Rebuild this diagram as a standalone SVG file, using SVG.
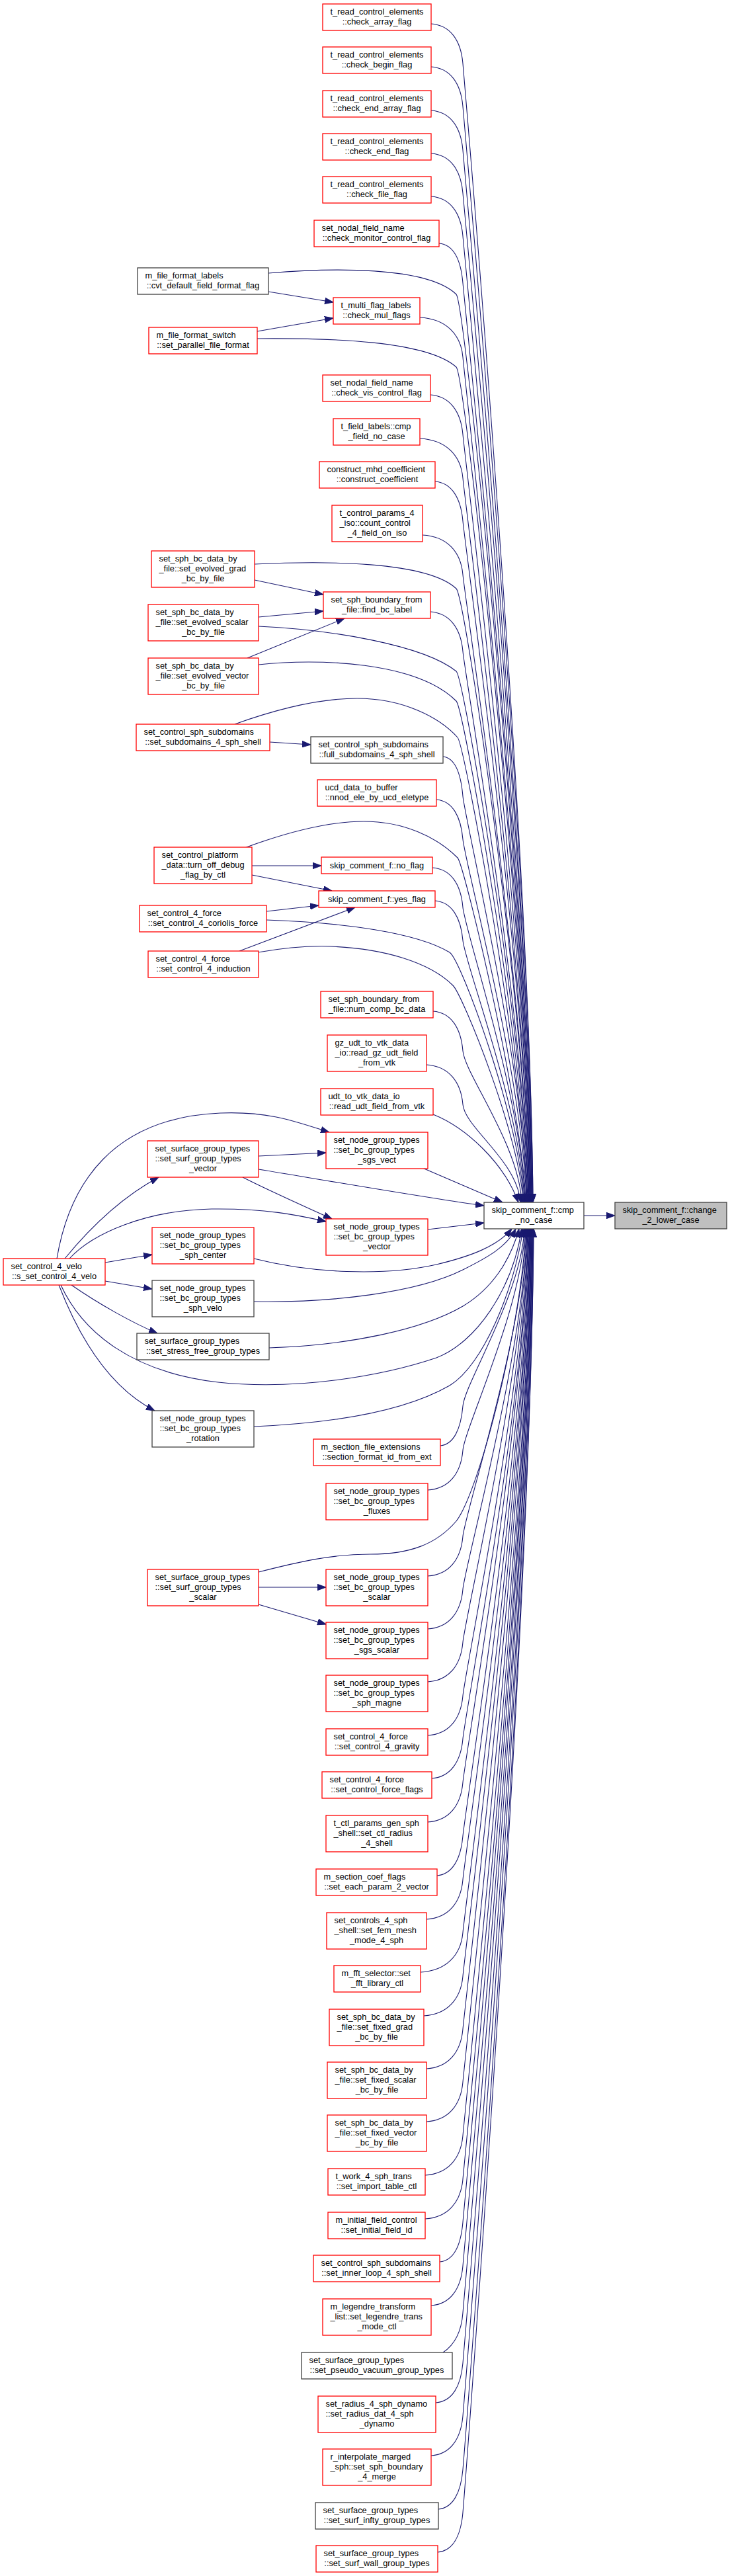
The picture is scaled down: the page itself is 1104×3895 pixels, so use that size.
<svg xmlns="http://www.w3.org/2000/svg" width="1104" height="3895" viewBox="0 0 1104 3895">
<defs>
<style>
.r{fill:#fff;stroke:#ff0000;stroke-width:1.3}
.k{fill:#fff;stroke:#404040;stroke-width:1.3}
.g{fill:#bfbfbf;stroke:#404040;stroke-width:1.3}
text{font-family:"Liberation Sans",Arial,Helvetica,sans-serif;font-size:12.8px;fill:#000}
.c{text-anchor:middle}
#edges path{fill:none;stroke:#191970;stroke-width:1.1;marker-end:url(#a)}
</style>
<marker id="a" viewBox="0 0 13 10" refX="13" refY="5" markerWidth="13" markerHeight="10" markerUnits="userSpaceOnUse" orient="auto"><path d="M0,0.3 L13,5 L0,9.7 z" fill="#191970" stroke="#191970" stroke-width="1"/></marker>
</defs>
<rect width="1104" height="3895" fill="#fff"/>
<g id="edges">
<path d="M406,441 L504,457"/>
<path d="M389,501 L504,481"/>
<path d="M385,877 L489,899"/>
<path d="M391,933 L489,924"/>
<path d="M374,995 L521,935"/>
<path d="M408,1122 L470,1126"/>
<path d="M381,1309 L486,1309"/>
<path d="M381,1323 L502,1347"/>
<path d="M403,1378 L482,1369"/>
<path d="M362,1438 L537,1372"/>
<path d="M391,1748 L493,1743"/>
<path d="M367,1780 C400,1797 440,1815 502,1843"/>
<path d="M86,1903 C105,1790 170,1690 333,1683 C410,1680 450,1697 498,1712"/>
<path d="M98,1903 C125,1870 175,1815 240,1780"/>
<path d="M105,1903 C140,1865 220,1830 320,1828 C400,1827 450,1837 493,1847"/>
<path d="M159,1909 L230,1897"/>
<path d="M159,1937 L230,1949"/>
<path d="M108,1943 C150,1972 200,2000 238,2016"/>
<path d="M89,1943 C115,2010 160,2095 234,2133"/>
<path d="M391,2400 L493,2400"/>
<path d="M391,2426 L493,2456"/>
<path d="M883,1838 L930,1838"/>
<path d="M652,36 C681,38 697,61 700,96 C703,131 802,1283 806,1818"/>
<path d="M652,101 C681,103 697,126 700,161 C703,196 802,1303 806,1818"/>
<path d="M652,167 C681,169 697,192 700,227 C703,262 801,1323 805,1818"/>
<path d="M652,232 C681,234 697,257 700,292 C703,327 801,1342 805,1818"/>
<path d="M652,297 C681,299 697,322 700,357 C703,392 800,1362 804,1818"/>
<path d="M664,368 C686,370 697,393 700,428 C703,463 800,1383 804,1818"/>
<path d="M635,480 C674,482 697,505 700,540 C703,575 799,1417 803,1818"/>
<path d="M651,597 C680,599 697,622 700,657 C703,692 798,1452 802,1818"/>
<path d="M635,663 C674,665 697,688 700,723 C703,758 797,1471 801,1818"/>
<path d="M658,728 C683,730 697,753 700,788 C703,823 797,1491 801,1818"/>
<path d="M639,809 C676,811 697,834 700,869 C703,904 796,1515 800,1818"/>
<path d="M651,925 C680,927 697,950 700,985 C703,1020 795,1550 799,1818"/>
<path d="M670,1144 C688,1146 697,1169 700,1204 C703,1239 793,1616 797,1818"/>
<path d="M660,1209 C684,1211 697,1234 700,1269 C703,1304 792,1635 796,1818"/>
<path d="M654,1312 C682,1314 697,1337 700,1372 C703,1407 790,1665 794,1818"/>
<path d="M658,1362 C683,1364 697,1387 700,1422 C703,1457 789,1681 793,1818"/>
<path d="M655,1529 C682,1531 697,1554 700,1589 C703,1624 785,1731 789,1818"/>
<path d="M645,1610 C678,1612 697,1635 700,1670 C703,1705 783,1756 787,1818"/>
<path d="M655,1685 C705,1705 762,1758 784,1818"/>
<path d="M639,1766 L760,1818"/>
<path d="M391,1768 C500,1786 650,1812 732,1823"/>
<path d="M647,1859 L732,1849"/>
<path d="M406,413 C500,405 645,402 690,445 C704,459 799,1406 803,1818"/>
<path d="M389,512 C500,511 645,515 690,555 C704,568 798,1440 802,1818"/>
<path d="M385,853 C490,848 645,848 690,890 C704,903 796,1540 800,1818"/>
<path d="M391,947 C500,952 640,975 690,1015 C702,1025 795,1580 799,1818"/>
<path d="M391,1005 C480,995 630,1000 690,1060 C702,1072 794,1600 798,1818"/>
<path d="M355,1095 C430,1068 490,1056 540,1056 C610,1056 665,1085 692,1115 C703,1127 793,1620 797,1818"/>
<path d="M370,1282 C440,1256 500,1242 550,1242 C610,1242 660,1265 692,1297 C702,1307 791,1680 795,1818"/>
<path d="M403,1391 C520,1395 630,1410 680,1440 C698,1452 788,1700 792,1818"/>
<path d="M390,1440 C430,1433 470,1430 500,1431 C580,1434 650,1455 685,1490 C700,1505 787,1720 791,1818"/>
<path d="M384,1903 C470,1925 580,1930 660,1912 C710,1900 752,1885 774,1858"/>
<path d="M384,1968 C500,1970 630,1955 700,1920 C740,1900 766,1885 780,1858"/>
<path d="M407,2038 C530,2034 640,2010 700,1975 C745,1948 772,1905 785,1858"/>
<path d="M92,1943 C125,2015 200,2075 330,2090 C450,2103 580,2080 660,2053 C720,2030 775,1950 789,1858"/>
<path d="M384,2157 C500,2152 610,2135 680,2095 C730,2065 778,1950 791,1858"/>
<path d="M391,2377 C450,2362 500,2350 560,2350 C620,2350 660,2335 690,2300 C725,2255 790,2000 795,1858"/>
<path d="M666,2186 C686,2184 697,2161 700,2126 C703,2091 789,1956 793,1858"/>
<path d="M647,2253 C679,2251 697,2228 700,2193 C703,2158 790,1977 794,1858"/>
<path d="M647,2383 C679,2381 697,2358 700,2323 C703,2288 792,2016 796,1858"/>
<path d="M647,2463 C679,2461 697,2438 700,2403 C703,2368 793,2040 797,1858"/>
<path d="M647,2543 C679,2541 697,2518 700,2483 C703,2448 793,2064 797,1858"/>
<path d="M647,2624 C679,2622 697,2599 700,2564 C703,2529 794,2088 798,1858"/>
<path d="M653,2689 C681,2687 697,2664 700,2629 C703,2594 795,2107 799,1858"/>
<path d="M647,2755 C679,2753 697,2730 700,2695 C703,2660 795,2127 799,1858"/>
<path d="M661,2836 C684,2834 697,2811 700,2776 C703,2741 796,2151 800,1858"/>
<path d="M645,2902 C678,2900 697,2877 700,2842 C703,2807 797,2171 801,1858"/>
<path d="M636,2982 C674,2980 697,2957 700,2922 C703,2887 797,2195 801,1858"/>
<path d="M641,3048 C676,3046 697,3023 700,2988 C703,2953 798,2215 802,1858"/>
<path d="M645,3128 C678,3126 697,3103 700,3068 C703,3033 798,2239 802,1858"/>
<path d="M645,3208 C678,3206 697,3183 700,3148 C703,3113 799,2263 803,1858"/>
<path d="M643,3289 C677,3287 697,3264 700,3229 C703,3194 799,2287 803,1858"/>
<path d="M643,3355 C677,3353 697,3330 700,3295 C703,3260 800,2307 804,1858"/>
<path d="M665,3420 C686,3418 697,3395 700,3360 C703,3325 800,2327 804,1858"/>
<path d="M652,3486 C681,3484 697,3461 700,3426 C703,3391 801,2346 805,1858"/>
<path d="M670,3557 C688,3545 698,3525 700,3497 C703,3462 801,2368 805,1858"/>
<path d="M659,3633 C684,3631 697,3608 700,3573 C703,3538 802,2390 806,1858"/>
<path d="M652,3713 C681,3711 697,3688 700,3653 C703,3618 802,2414 806,1858"/>
<path d="M663,3794 C685,3792 697,3769 700,3734 C703,3699 803,2439 807,1858"/>
<path d="M662,3859 C685,3857 697,3834 700,3799 C703,3764 803,2458 807,1858"/>
</g>
<g id="n_check_array"><rect class="r" x="488" y="6" width="164" height="40"/><text x="499.5" y="22">t_read_control_elements</text><text class="c" x="570" y="37">::check_array_flag</text></g>
<g id="n_check_begin"><rect class="r" x="488" y="71" width="164" height="40"/><text x="499.5" y="87">t_read_control_elements</text><text class="c" x="570" y="102">::check_begin_flag</text></g>
<g id="n_check_end_array"><rect class="r" x="488" y="137" width="164" height="40"/><text x="499.5" y="153">t_read_control_elements</text><text class="c" x="570" y="168">::check_end_array_flag</text></g>
<g id="n_check_end"><rect class="r" x="488" y="202" width="164" height="40"/><text x="499.5" y="218">t_read_control_elements</text><text class="c" x="570" y="233">::check_end_flag</text></g>
<g id="n_check_file"><rect class="r" x="488" y="267" width="164" height="40"/><text x="499.5" y="283">t_read_control_elements</text><text class="c" x="570" y="298">::check_file_flag</text></g>
<g id="n_check_monitor"><rect class="r" x="475" y="333" width="189" height="40"/><text x="486.5" y="349">set_nodal_field_name</text><text class="c" x="569.5" y="364">::check_monitor_control_flag</text></g>
<g id="n_cvt"><rect class="k" x="208" y="405" width="198" height="40"/><text x="219.5" y="421">m_file_format_labels</text><text class="c" x="307" y="436">::cvt_default_field_format_flag</text></g>
<g id="n_check_mul"><rect class="r" x="504" y="450" width="131" height="40"/><text x="515.5" y="466">t_multi_flag_labels</text><text class="c" x="569.5" y="481">::check_mul_flags</text></g>
<g id="n_set_parallel"><rect class="r" x="225" y="495" width="164" height="40"/><text x="236.5" y="511">m_file_format_switch</text><text class="c" x="307" y="526">::set_parallel_file_format</text></g>
<g id="n_check_vis"><rect class="r" x="488" y="567" width="163" height="40"/><text x="499.5" y="583">set_nodal_field_name</text><text class="c" x="569.5" y="598">::check_vis_control_flag</text></g>
<g id="n_cmp_field"><rect class="r" x="504" y="633" width="131" height="40"/><text x="515.5" y="649">t_field_labels::cmp</text><text class="c" x="569.5" y="664">_field_no_case</text></g>
<g id="n_construct"><rect class="r" x="483" y="698" width="175" height="40"/><text x="494.5" y="714">construct_mhd_coefficient</text><text class="c" x="570.5" y="729">::construct_coefficient</text></g>
<g id="n_count_control"><rect class="r" x="502" y="764" width="137" height="55"/><text x="513.5" y="780">t_control_params_4</text><text x="513.5" y="795">_iso::count_control</text><text class="c" x="570.5" y="810">_4_field_on_iso</text></g>
<g id="n_evolved_grad"><rect class="r" x="229" y="833" width="156" height="55"/><text x="240.5" y="849">set_sph_bc_data_by</text><text x="240.5" y="864">_file::set_evolved_grad</text><text class="c" x="307" y="879">_bc_by_file</text></g>
<g id="n_find_bc"><rect class="r" x="489" y="895" width="162" height="40"/><text x="500.5" y="911">set_sph_boundary_from</text><text class="c" x="570" y="926">_file::find_bc_label</text></g>
<g id="n_evolved_scalar"><rect class="r" x="224" y="914" width="167" height="55"/><text x="235.5" y="930">set_sph_bc_data_by</text><text x="235.5" y="945">_file::set_evolved_scalar</text><text class="c" x="307.5" y="960">_bc_by_file</text></g>
<g id="n_evolved_vector"><rect class="r" x="224" y="995" width="167" height="55"/><text x="235.5" y="1011">set_sph_bc_data_by</text><text x="235.5" y="1026">_file::set_evolved_vector</text><text class="c" x="307.5" y="1041">_bc_by_file</text></g>
<g id="n_set_subdomains"><rect class="r" x="206" y="1095" width="202" height="40"/><text x="217.5" y="1111">set_control_sph_subdomains</text><text class="c" x="307" y="1126">::set_subdomains_4_sph_shell</text></g>
<g id="n_full_subdomains"><rect class="k" x="470" y="1114" width="200" height="40"/><text x="481.5" y="1130">set_control_sph_subdomains</text><text class="c" x="570" y="1145">::full_subdomains_4_sph_shell</text></g>
<g id="n_nnod"><rect class="r" x="480" y="1179" width="180" height="40"/><text x="491.5" y="1195">ucd_data_to_buffer</text><text class="c" x="570" y="1210">::nnod_ele_by_ucd_eletype</text></g>
<g id="n_platform"><rect class="r" x="233" y="1281" width="148" height="55"/><text x="244.5" y="1297">set_control_platform</text><text x="244.5" y="1312">_data::turn_off_debug</text><text class="c" x="307" y="1327">_flag_by_ctl</text></g>
<g id="n_no_flag"><rect class="r" x="486" y="1296" width="168" height="25"/><text class="c" x="570" y="1312.5">skip_comment_f::no_flag</text></g>
<g id="n_yes_flag"><rect class="r" x="482" y="1347" width="176" height="25"/><text class="c" x="570" y="1363.5">skip_comment_f::yes_flag</text></g>
<g id="n_coriolis"><rect class="r" x="211" y="1369" width="192" height="40"/><text x="222.5" y="1385">set_control_4_force</text><text class="c" x="307" y="1400">::set_control_4_coriolis_force</text></g>
<g id="n_induction"><rect class="r" x="224" y="1438" width="167" height="40"/><text x="235.5" y="1454">set_control_4_force</text><text class="c" x="307.5" y="1469">::set_control_4_induction</text></g>
<g id="n_num_comp"><rect class="r" x="485" y="1499" width="170" height="40"/><text x="496.5" y="1515">set_sph_boundary_from</text><text class="c" x="570" y="1530">_file::num_comp_bc_data</text></g>
<g id="n_read_gz"><rect class="r" x="495" y="1565" width="150" height="55"/><text x="506.5" y="1581">gz_udt_to_vtk_data</text><text x="506.5" y="1596">_io::read_gz_udt_field</text><text class="c" x="570" y="1611">_from_vtk</text></g>
<g id="n_read_udt"><rect class="r" x="485" y="1646" width="170" height="40"/><text x="496.5" y="1662">udt_to_vtk_data_io</text><text class="c" x="570" y="1677">::read_udt_field_from_vtk</text></g>
<g id="n_sgs_vect"><rect class="r" x="493" y="1712" width="154" height="55"/><text x="504.5" y="1728">set_node_group_types</text><text x="504.5" y="1743">::set_bc_group_types</text><text class="c" x="570" y="1758">_sgs_vect</text></g>
<g id="n_surf_vector"><rect class="r" x="223" y="1725" width="168" height="55"/><text x="234.5" y="1741">set_surface_group_types</text><text x="234.5" y="1756">::set_surf_group_types</text><text class="c" x="307" y="1771">_vector</text></g>
<g id="n_bc_vector"><rect class="r" x="493" y="1843" width="154" height="55"/><text x="504.5" y="1859">set_node_group_types</text><text x="504.5" y="1874">::set_bc_group_types</text><text class="c" x="570" y="1889">_vector</text></g>
<g id="n_sph_center"><rect class="r" x="230" y="1856" width="154" height="55"/><text x="241.5" y="1872">set_node_group_types</text><text x="241.5" y="1887">::set_bc_group_types</text><text class="c" x="307" y="1902">_sph_center</text></g>
<g id="n_velo"><rect class="r" x="5" y="1903" width="154" height="40"/><text x="16.5" y="1919">set_control_4_velo</text><text class="c" x="82" y="1934">::s_set_control_4_velo</text></g>
<g id="n_sph_velo"><rect class="k" x="230" y="1936" width="154" height="55"/><text x="241.5" y="1952">set_node_group_types</text><text x="241.5" y="1967">::set_bc_group_types</text><text class="c" x="307" y="1982">_sph_velo</text></g>
<g id="n_stress_free"><rect class="k" x="207" y="2016" width="200" height="40"/><text x="218.5" y="2032">set_surface_group_types</text><text class="c" x="307" y="2047">::set_stress_free_group_types</text></g>
<g id="n_rotation"><rect class="k" x="230" y="2133" width="154" height="55"/><text x="241.5" y="2149">set_node_group_types</text><text x="241.5" y="2164">::set_bc_group_types</text><text class="c" x="307" y="2179">_rotation</text></g>
<g id="n_section_format"><rect class="r" x="474" y="2176" width="192" height="40"/><text x="485.5" y="2192">m_section_file_extensions</text><text class="c" x="570" y="2207">::section_format_id_from_ext</text></g>
<g id="n_fluxes"><rect class="r" x="493" y="2243" width="154" height="55"/><text x="504.5" y="2259">set_node_group_types</text><text x="504.5" y="2274">::set_bc_group_types</text><text class="c" x="570" y="2289">_fluxes</text></g>
<g id="n_surf_scalar"><rect class="r" x="223" y="2373" width="168" height="55"/><text x="234.5" y="2389">set_surface_group_types</text><text x="234.5" y="2404">::set_surf_group_types</text><text class="c" x="307" y="2419">_scalar</text></g>
<g id="n_bc_scalar"><rect class="r" x="493" y="2373" width="154" height="55"/><text x="504.5" y="2389">set_node_group_types</text><text x="504.5" y="2404">::set_bc_group_types</text><text class="c" x="570" y="2419">_scalar</text></g>
<g id="n_sgs_scalar"><rect class="r" x="493" y="2453" width="154" height="55"/><text x="504.5" y="2469">set_node_group_types</text><text x="504.5" y="2484">::set_bc_group_types</text><text class="c" x="570" y="2499">_sgs_scalar</text></g>
<g id="n_sph_magne"><rect class="r" x="493" y="2533" width="154" height="55"/><text x="504.5" y="2549">set_node_group_types</text><text x="504.5" y="2564">::set_bc_group_types</text><text class="c" x="570" y="2579">_sph_magne</text></g>
<g id="n_gravity"><rect class="r" x="493" y="2614" width="154" height="40"/><text x="504.5" y="2630">set_control_4_force</text><text class="c" x="570" y="2645">::set_control_4_gravity</text></g>
<g id="n_force_flags"><rect class="r" x="487" y="2679" width="166" height="40"/><text x="498.5" y="2695">set_control_4_force</text><text class="c" x="570" y="2710">::set_control_force_flags</text></g>
<g id="n_ctl_radius"><rect class="r" x="493" y="2745" width="154" height="55"/><text x="504.5" y="2761">t_ctl_params_gen_sph</text><text x="504.5" y="2776">_shell::set_ctl_radius</text><text class="c" x="570" y="2791">_4_shell</text></g>
<g id="n_each_param"><rect class="r" x="478" y="2826" width="183" height="40"/><text x="489.5" y="2842">m_section_coef_flags</text><text class="c" x="569.5" y="2857">::set_each_param_2_vector</text></g>
<g id="n_fem_mesh"><rect class="r" x="494" y="2892" width="151" height="55"/><text x="505.5" y="2908">set_controls_4_sph</text><text x="505.5" y="2923">_shell::set_fem_mesh</text><text class="c" x="569.5" y="2938">_mode_4_sph</text></g>
<g id="n_fft"><rect class="r" x="505" y="2972" width="131" height="40"/><text x="516.5" y="2988">m_fft_selector::set</text><text class="c" x="570.5" y="3003">_fft_library_ctl</text></g>
<g id="n_fixed_grad"><rect class="r" x="498" y="3038" width="143" height="55"/><text x="509.5" y="3054">set_sph_bc_data_by</text><text x="509.5" y="3069">_file::set_fixed_grad</text><text class="c" x="569.5" y="3084">_bc_by_file</text></g>
<g id="n_fixed_scalar"><rect class="r" x="495" y="3118" width="150" height="55"/><text x="506.5" y="3134">set_sph_bc_data_by</text><text x="506.5" y="3149">_file::set_fixed_scalar</text><text class="c" x="570" y="3164">_bc_by_file</text></g>
<g id="n_fixed_vector"><rect class="r" x="495" y="3198" width="150" height="55"/><text x="506.5" y="3214">set_sph_bc_data_by</text><text x="506.5" y="3229">_file::set_fixed_vector</text><text class="c" x="570" y="3244">_bc_by_file</text></g>
<g id="n_import_table"><rect class="r" x="496" y="3279" width="147" height="40"/><text x="507.5" y="3295">t_work_4_sph_trans</text><text class="c" x="569.5" y="3310">::set_import_table_ctl</text></g>
<g id="n_initial_field"><rect class="r" x="496" y="3345" width="147" height="40"/><text x="507.5" y="3361">m_initial_field_control</text><text class="c" x="569.5" y="3376">::set_initial_field_id</text></g>
<g id="n_inner_loop"><rect class="r" x="474" y="3410" width="191" height="40"/><text x="485.5" y="3426">set_control_sph_subdomains</text><text class="c" x="569.5" y="3441">::set_inner_loop_4_sph_shell</text></g>
<g id="n_legendre"><rect class="r" x="488" y="3476" width="164" height="55"/><text x="499.5" y="3492">m_legendre_transform</text><text x="499.5" y="3507">_list::set_legendre_trans</text><text class="c" x="570" y="3522">_mode_ctl</text></g>
<g id="n_pseudo_vacuum"><rect class="k" x="456" y="3557" width="228" height="40"/><text x="467.5" y="3573">set_surface_group_types</text><text class="c" x="570" y="3588">::set_pseudo_vacuum_group_types</text></g>
<g id="n_radius_dat"><rect class="r" x="481" y="3623" width="178" height="55"/><text x="492.5" y="3639">set_radius_4_sph_dynamo</text><text x="492.5" y="3654">::set_radius_dat_4_sph</text><text class="c" x="570" y="3669">_dynamo</text></g>
<g id="n_sph_boundary_merge"><rect class="r" x="488" y="3703" width="164" height="55"/><text x="499.5" y="3719">r_interpolate_marged</text><text x="499.5" y="3734">_sph::set_sph_boundary</text><text class="c" x="570" y="3749">_4_merge</text></g>
<g id="n_surf_infty"><rect class="k" x="477" y="3784" width="186" height="40"/><text x="488.5" y="3800">set_surface_group_types</text><text class="c" x="570" y="3815">::set_surf_infty_group_types</text></g>
<g id="n_surf_wall"><rect class="r" x="478" y="3849" width="184" height="40"/><text x="489.5" y="3865">set_surface_group_types</text><text class="c" x="570" y="3880">::set_surf_wall_group_types</text></g>
<g id="n_cmp_no_case"><rect class="k" x="732" y="1818" width="151" height="40"/><text x="743.5" y="1834">skip_comment_f::cmp</text><text class="c" x="807.5" y="1849">_no_case</text></g>
<g id="n_change_2_lower_case"><rect class="g" x="930" y="1818" width="169" height="40"/><text x="941.5" y="1834">skip_comment_f::change</text><text class="c" x="1014.5" y="1849">_2_lower_case</text></g>
</svg>
